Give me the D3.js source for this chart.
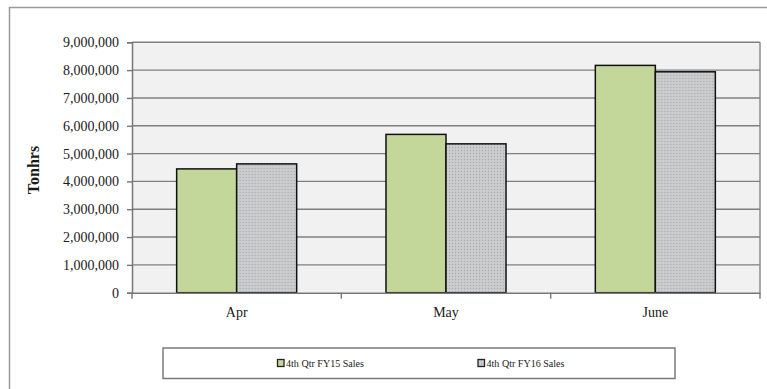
<!DOCTYPE html>
<html>
<head>
<meta charset="utf-8">
<script src="https://cdn.jsdelivr.net/npm/d3@7"></script>
<style>
  html, body { margin: 0; padding: 0; background: #fff; }
  svg { display: block; }
  text { font-family: "Liberation Serif", "Times New Roman", serif; fill: #1a1a1a; }
</style>
</head>
<body>
<svg id="chart" width="767" height="389"></svg>
<script>
// Monthly ton-hours, 4th quarter
const months = ["Apr", "May", "June"];
const seriesNames = ["4th Qtr FY15 Sales", "4th Qtr FY16 Sales"];
const fy15Sales = [4450000, 5690000, 8170000];
const fy16Sales = [4630000, 5350000, 7940000];
const yTicks = [0, 1000000, 2000000, 3000000, 4000000, 5000000, 6000000, 7000000, 8000000, 9000000];

const svg = d3.select("#chart");
const W = 767, H = 389;
const plot = { left: 132, right: 760, top: 42.3, bottom: 292.7 };

// chart frame
svg.append("rect")
  .attr("x", 9.5).attr("y", 7.5)
  .attr("width", W + 10).attr("height", H + 10)
  .attr("fill", "#fff").attr("stroke", "#9a9a9a").attr("stroke-width", 1.5);

// pattern for the FY16 bars: fine grey stipple
const defs = svg.append("defs");
const pat = defs.append("pattern")
  .attr("id", "stipple").attr("patternUnits", "userSpaceOnUse")
  .attr("width", 3).attr("height", 3);
pat.append("rect").attr("width", 3).attr("height", 3).attr("fill", "#c6c8ca");
pat.append("rect").attr("x", 0).attr("y", 0).attr("width", 1).attr("height", 1).attr("fill", "#a9abad");
pat.append("rect").attr("x", 1.5).attr("y", 1.5).attr("width", 1).attr("height", 1).attr("fill", "#dadcdd");

const x = d3.scaleBand()
  .domain(months)
  .range([plot.left, plot.right])
  .paddingInner(0.4267)
  .paddingOuter(0.21335);

const xs = d3.scaleBand()
  .domain(seriesNames)
  .range([0, x.bandwidth()]);

const y = d3.scaleLinear()
  .domain([0, 9000000])
  .range([plot.bottom, plot.top]);

// plot area background
svg.append("rect")
  .attr("x", plot.left).attr("y", plot.top)
  .attr("width", plot.right - plot.left).attr("height", plot.bottom - plot.top)
  .attr("fill", "#f1f1f1");

// horizontal gridlines
svg.append("g")
  .selectAll("line")
  .data(yTicks.filter(d => d > 0))
  .join("line")
  .attr("x1", plot.left).attr("x2", plot.right)
  .attr("y1", d => y(d)).attr("y2", d => y(d))
  .attr("stroke", "#7f7f7f").attr("stroke-width", 1.4);

// right border of plot area
svg.append("line")
  .attr("x1", plot.right).attr("x2", plot.right)
  .attr("y1", plot.top).attr("y2", plot.bottom)
  .attr("stroke", "#858585").attr("stroke-width", 1.4);

// bars
const fills = ["#c4d79b", "url(#stipple)"];
const rows = months.map((m, i) => ({ month: m, values: [fy15Sales[i], fy16Sales[i]] }));

const groups = svg.append("g")
  .selectAll("g")
  .data(rows)
  .join("g")
  .attr("transform", d => `translate(${x(d.month)},0)`);

groups.selectAll("rect")
  .data(d => d.values.map((v, k) => ({ name: seriesNames[k], value: v, k })))
  .join("rect")
  .attr("x", d => xs(d.name))
  .attr("y", d => y(d.value))
  .attr("width", xs.bandwidth())
  .attr("height", d => y(0) - y(d.value))
  .attr("fill", d => fills[d.k])
  .attr("stroke", "#111")
  .attr("stroke-width", 1.5);

// y axis
const yAxis = d3.axisLeft(y)
  .tickValues(yTicks)
  .tickSize(5)
  .tickPadding(8)
  .tickFormat(d3.format(","));

const gy = svg.append("g")
  .attr("transform", `translate(${plot.left},0)`)
  .call(yAxis);
gy.select(".domain").attr("stroke", "#777").attr("stroke-width", 1.5);
gy.selectAll(".tick line").attr("stroke", "#777").attr("stroke-width", 1.4);
gy.selectAll(".tick text")
  .attr("font-size", 14)
  .attr("font-family", "Liberation Serif, serif")
  .attr("fill", "#1a1a1a");

// x axis
const xAxis = d3.axisBottom(x).tickSize(0).tickPadding(14);
const gx = svg.append("g")
  .attr("transform", `translate(0,${plot.bottom})`)
  .call(xAxis);
gx.select(".domain").attr("stroke", "#777").attr("stroke-width", 1.5);
gx.selectAll(".tick text")
  .attr("font-size", 14)
  .attr("font-family", "Liberation Serif, serif")
  .attr("fill", "#1a1a1a");

// category separators below the axis
const seps = months.map(m => x(m) - x.step() * x.paddingOuter()).concat([plot.right]);
gx.append("g")
  .selectAll("line")
  .data(seps)
  .join("line")
  .attr("x1", d => d).attr("x2", d => d)
  .attr("y1", 0).attr("y2", 6)
  .attr("stroke", "#777").attr("stroke-width", 1.4);

// y axis title
svg.append("text")
  .attr("transform", `translate(38.5,170) rotate(-90)`)
  .attr("text-anchor", "middle")
  .attr("font-size", 16)
  .attr("font-weight", "bold")
  .text("Tonhrs");

// legend
const legend = svg.append("g");
legend.append("rect")
  .attr("x", 163).attr("y", 348)
  .attr("width", 512).attr("height", 30.5)
  .attr("fill", "#fff").attr("stroke", "#7a7a7a").attr("stroke-width", 1.5);

const legendX = [277.5, 478];
const legendItems = legend.selectAll("g.item")
  .data(seriesNames)
  .join("g")
  .attr("class", "item")
  .attr("transform", (d, i) => `translate(${legendX[i]},363)`);

legendItems.append("rect")
  .attr("x", 0).attr("y", -3.5)
  .attr("width", 6.5).attr("height", 7)
  .attr("fill", (d, i) => fills[i])
  .attr("stroke", "#222").attr("stroke-width", 1.3);

legendItems.append("text")
  .attr("x", 8.5).attr("y", 3.5)
  .attr("font-size", 10.5)
  .attr("textLength", 78)
  .attr("lengthAdjust", "spacingAndGlyphs")
  .text(d => d);
</script>
</body>
</html>
